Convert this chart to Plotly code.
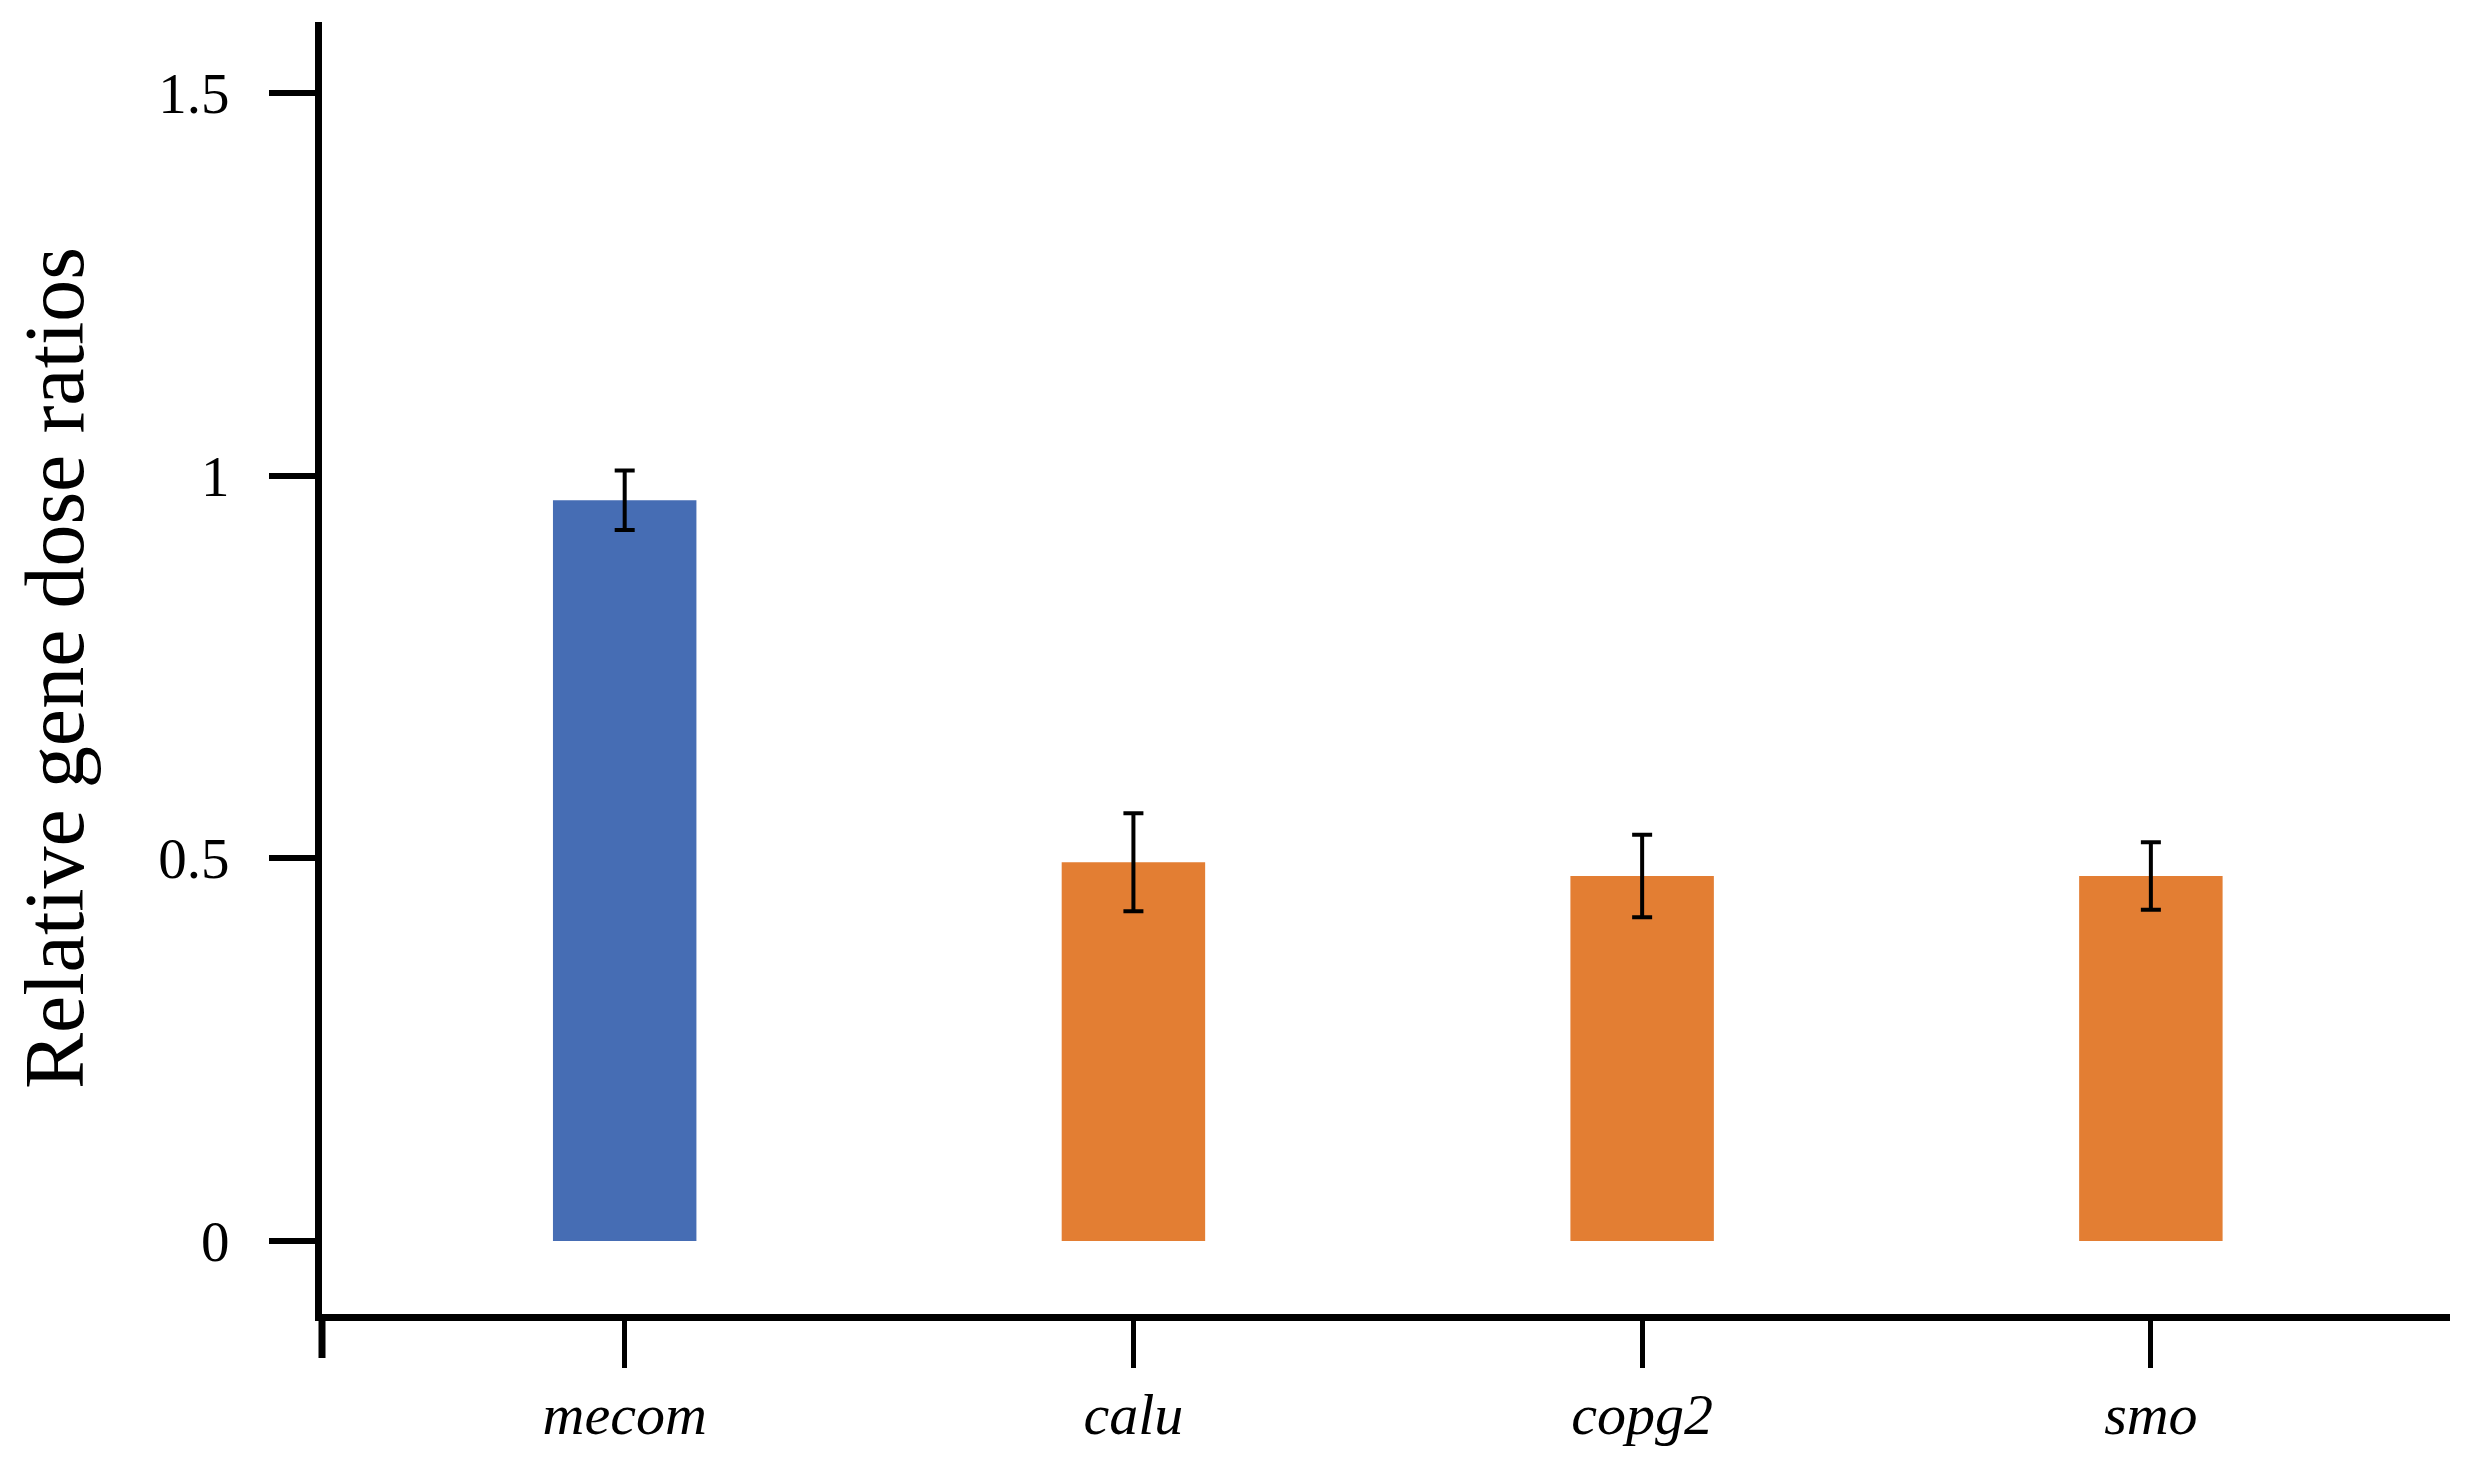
import plotly.graph_objects as go

genes = ["mecom", "calu", "copg2", "smo"]
ratios = [0.968, 0.495, 0.477, 0.477]
errors = [0.039, 0.064, 0.054, 0.044]
bar_colors = ["#466DB4", "#E37E33", "#E37E33", "#E37E33"]
y_tickvals = [0, 0.5, 1, 1.5]
y_ticktext = ["0", "0.5", "1", "1.5"]

W, H = 2467, 1472
# page body adds an 8px offset; margins compensate for it
ml, mr, mt, mb = 314, 25, 14, 166
plot_h = H - mt - mb

fig = go.Figure()
fig.add_trace(go.Bar(
    x=genes, y=ratios,
    marker=dict(color=bar_colors, line=dict(width=0)),
    width=0.282,
    error_y=dict(type="data", array=errors, visible=True,
                 color="black", thickness=4, width=10),
    showlegend=False,
))

font_family = "Liberation Serif, DejaVu Serif, serif"

fig.update_layout(
    width=W, height=H,
    margin=dict(l=ml, r=mr, t=mt, b=mb, pad=0),
    plot_bgcolor="white", paper_bgcolor="white",
    font=dict(family=font_family, color="black"),
    xaxis=dict(
        type="category",
        range=[-0.595, 3.588],
        automargin=False,
        showline=True, linecolor="black", linewidth=7,
        ticks="outside", ticklen=47, tickwidth=5, tickcolor="black",
        tickfont=dict(size=58, family=font_family, style="italic"),
        ticklabelstandoff=-4,
        showgrid=False, zeroline=False,
    ),
    yaxis=dict(
        range=[-0.0954, 1.593],
        automargin=False,
        tickvals=y_tickvals, ticktext=y_ticktext,
        showline=True, linecolor="black", linewidth=7,
        ticks="outside", ticklen=46, tickwidth=6, tickcolor="black",
        tickfont=dict(size=57, family=font_family),
        ticklabelstandoff=28,
        title=dict(text="Relative gene dose ratios",
                   font=dict(size=84, family=font_family), standoff=65),
        showgrid=False, zeroline=False,
    ),
)

# y-axis spine extending below the x-axis line
fig.add_shape(type="line", xref="paper", yref="paper",
              x0=0, x1=0, y0=0, y1=-44 / plot_h,
              line=dict(color="black", width=7))

fig.write_html("out.html")
